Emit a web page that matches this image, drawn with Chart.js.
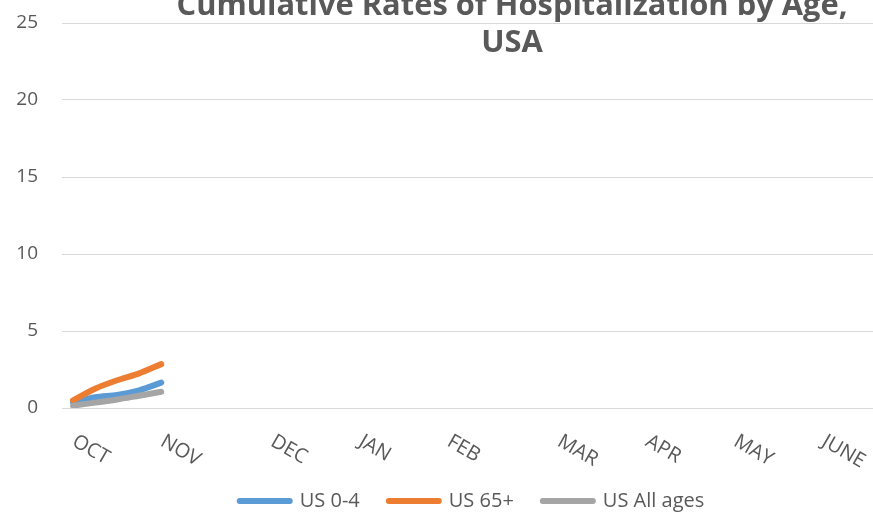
<!DOCTYPE html>
<html lang="en">
<head>
  <meta charset="UTF-8">
  <title>Cumulative Rates of Hospitalization by Age, USA</title>
  <script src="https://cdn.jsdelivr.net/npm/chart.js"></script>
  <style>
    html, body { margin: 0; padding: 0; overflow: hidden; background: #fff; }
    #wrap { position: relative; width: 944px; height: 512px; }
  </style>
</head>
<body>

<div id="wrap"><canvas id="lineChart"></canvas></div>

<script>
  // month labels and the week (category index) where each one sits
  const months = ['OCT', 'NOV', 'DEC', 'JAN', 'FEB', 'MAR', 'APR', 'MAY', 'JUNE'];
  const monthWeek = [0, 4, 9, 13, 17, 22, 26, 30, 34];
  const weekCount = 40;

  // weekly cumulative rates (only the first weeks are reported)
  const us04 = [0.35, 0.7, 0.85, 1.15, 1.65];
  const us65 = [0.5, 1.25, 1.8, 2.25, 2.85];
  const usAll = [0.15, 0.35, 0.55, 0.8, 1.05];

  const titleLines = ['Cumulative Rates of Hospitalization by Age,', 'USA'];

  const labels = Array(weekCount).fill('');
  monthWeek.forEach((w, i) => { labels[w] = months[i]; });

  const textColor = '#595959';
  const gridColor = '#d9d9d9';

  // title drawn over the plot like the original (no space reserved)
  const titlePlugin = {
    id: 'overTitle',
    afterDraw(chart) {
      const ctx = chart.ctx;
      ctx.save();
      ctx.font = 'bold 31px "Open Sans"';
      ctx.fillStyle = textColor;
      ctx.textAlign = 'center';
      ctx.textBaseline = 'alphabetic';
      const sx = 671 / ctx.measureText(titleLines[0]).width;
      ctx.translate(512, 0);
      ctx.scale(sx, 1);
      ctx.fillText(titleLines[0], 0, 15);
      ctx.fillText(titleLines[1], 0, 52);
      ctx.restore();
    }
  };

  // month labels slanted downwards to the right, starting at the tick
  const monthLabelPlugin = {
    id: 'monthLabels',
    afterDraw(chart) {
      const ctx = chart.ctx;
      const xs = chart.scales.x;
      ctx.save();
      ctx.font = '20px "Open Sans"';
      ctx.fillStyle = textColor;
      ctx.textAlign = 'left';
      ctx.textBaseline = 'alphabetic';
      chart.data.labels.forEach((lab, i) => {
        if (!lab) return;
        const x = xs.getPixelForValue(i);
        ctx.save();
        ctx.translate(x - 2, 445);
        ctx.rotate(30 * Math.PI / 180);
        ctx.fillText(lab, 0, 0);
        ctx.restore();
      });
      ctx.restore();
    }
  };

  function series(label, data, color, order) {
    return {
      label: label,
      data: data,
      borderColor: color,
      backgroundColor: color,
      borderWidth: 6,
      borderCapStyle: 'round',
      borderJoinStyle: 'round',
      pointRadius: 0,
      tension: 0.3,
      fill: false,
      order: order
    };
  }

  const ctx = document.getElementById('lineChart').getContext('2d');
  new Chart(ctx, {
    type: 'line',
    data: {
      labels: labels,
      datasets: [
        series('US 0-4', us04, '#5B9BD5', 3),
        series('US 65+', us65, '#ED7D31', 2),
        series('US All ages', usAll, '#A5A5A5', 1)
      ]
    },
    options: {
      responsive: true,
      maintainAspectRatio: false,
      animation: false,
      layout: { padding: { top: 23, bottom: -9, left: 0, right: 0 } },
      plugins: {
        title: { display: false },
        tooltip: { enabled: false },
        legend: {
          position: 'bottom',
          labels: {
            usePointStyle: true,
            pointStyle: 'line',
            pointStyleWidth: 50,
            padding: 29,
            color: textColor,
            font: { family: '"Open Sans"', size: 20 },
            generateLabels: chart =>
              Chart.defaults.plugins.legend.labels.generateLabels(chart)
                .map(item => Object.assign(item, { lineCap: 'round', lineWidth: 6 })),
            sort: (a, b) => a.datasetIndex - b.datasetIndex
          }
        }
      },
      scales: {
        x: {
          type: 'category',
          offset: true,
          grid: { display: false },
          border: { display: false },
          ticks: { display: false, autoSkip: false },
          afterFit: s => { s.height = 54; }
        },
        y: {
          min: 0,
          max: 25,
          grid: { color: gridColor, lineWidth: 1, drawTicks: false },
          border: { display: false },
          ticks: {
            stepSize: 5,
            padding: 24,
            color: textColor,
            font: { family: '"Open Sans"', size: 19 }
          },
          afterFit: s => { s.width = 62; s.paddingTop = 0; s.paddingBottom = 0; }
        }
      }
    },
    plugins: [titlePlugin, monthLabelPlugin]
  });
</script>

</body>
</html>
